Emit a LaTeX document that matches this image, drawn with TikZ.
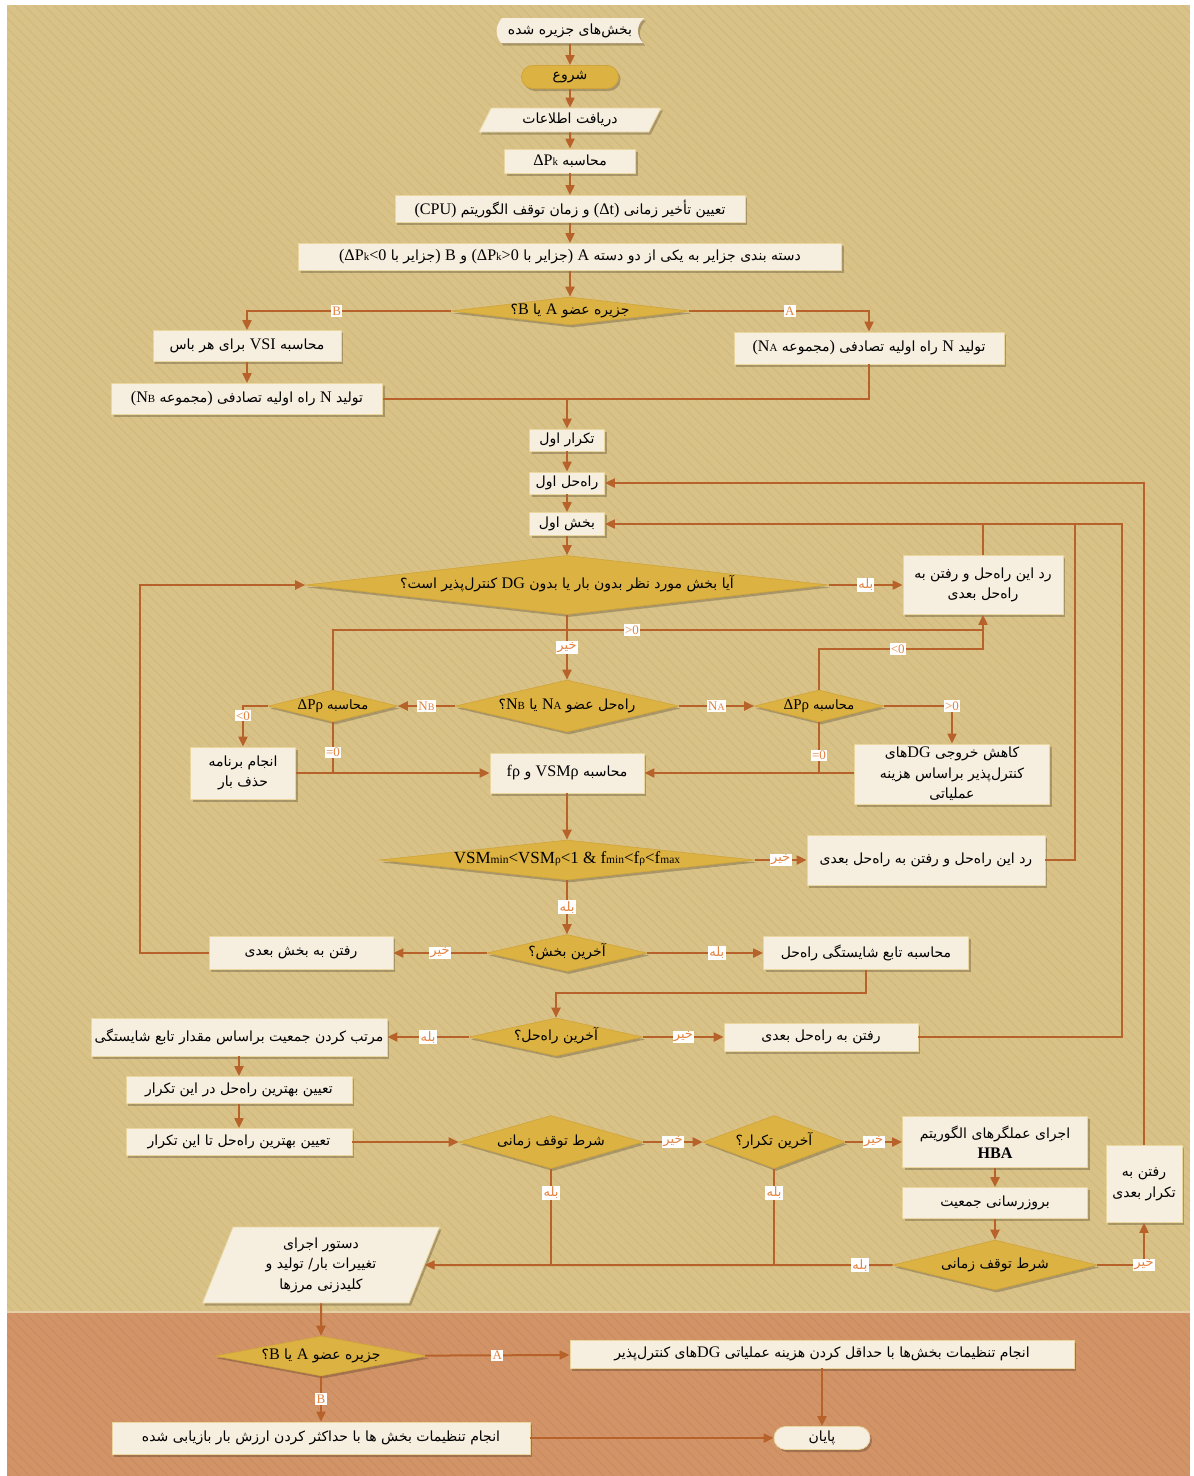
\documentclass[tikz,border=0pt]{standalone}
\usepackage{fontspec}
\setmainfont{Liberation Serif}
\newfontfamily\arabicfont[Script=Arabic]{DejaVu Sans}
\newfontfamily\latfont{Liberation Serif}[Scale=1.15]
\TeXXeTstate=1
\usetikzlibrary{arrows.meta, positioning, shapes.geometric, shadows, patterns.meta}

\definecolor{tanbg}{HTML}{D9C287}
\definecolor{tanln}{HTML}{D2B97B}
\definecolor{brownbg}{HTML}{D29467}
\definecolor{brownln}{HTML}{C98B5F}
\definecolor{edgeln}{HTML}{E6CFA6}
\definecolor{gold}{HTML}{DCB242}
\definecolor{goldln}{HTML}{D0A43A}
\definecolor{cream}{HTML}{F6EEDF}
\definecolor{creamln}{HTML}{EAD7A0}
\definecolor{flowc}{HTML}{B8622B}
\definecolor{labc}{HTML}{E4823F}

\newcommand{\fat}[1]{{\arabicfont\beginR #1\endR}}
\newcommand{\enw}[1]{\beginL{\latfont #1}\endL}
\newcommand{\sml}[2][9.5]{{\fontsize{#1}{#1}\selectfont #2}}

\tikzset{
  boxshadow/.style={drop shadow={shadow xshift=2pt, shadow yshift=-2.5pt, opacity=0.22, fill=black}},
  box/.style={rectangle, fill=cream, draw=creamln, line width=0.8pt, inner sep=2pt, align=center, font=\fontsize{14}{20.5}\selectfont, boxshadow},
  dec/.style={diamond, fill=gold, draw=goldln, line width=0.6pt, inner sep=0pt, text height=8pt, text depth=2pt, align=center, font=\fontsize{14}{20}\selectfont, boxshadow},
  term/.style={box, rounded corners=11.5pt},
  io/.style={box, trapezium, trapezium stretches body},
  flow/.style={draw=flowc, line width=2pt, -{Triangle[length=10pt, width=9pt]}},
  wire/.style={draw=flowc, line width=2pt},
  lbl/.style={fill=white, text=labc, inner sep=1.3pt, font=\fontsize{13}{13}\selectfont},
}

\begin{document}
\begin{tikzpicture}[x=1pt, y=-1pt]
% background
\fill[white] (0,0) rectangle (1194,1476);
\fill[tanbg] (7,5) rectangle (1190,1312);
\fill[pattern={Lines[angle=-45, distance=7pt, line width=0.9pt]}, pattern color=tanln] (7,5) rectangle (1190,1312);
\fill[brownbg] (7,1312) rectangle (1190,1476);
\fill[pattern={Lines[angle=-45, distance=7pt, line width=0.9pt]}, pattern color=brownln] (7,1312) rectangle (1190,1476);
\draw[edgeln, line width=1.5pt] (7,1312) -- (1190,1312);
\useasboundingbox (0,0) rectangle (1194,1476);

% top chain
\fill[cream, boxshadow] (502,18) .. controls (495,26) and (495,35) .. (501,43) -- (643,43) .. controls (636,35) and (636,26) .. (644,18) -- cycle;
\node[font=\fontsize{14}{20}\selectfont, minimum width=140, minimum height=25, inner sep=0pt] (src) at (570,31) {\fat{بخش‌های جزیره شده}};
\node[term, fill=gold, draw=goldln, minimum width=97, minimum height=23] (start) at (570,77) {\fat{شروع}};
\node[io, trapezium left angle=56, trapezium right angle=124, minimum width=182, minimum height=24] (readin) at (570,120) {\fat{دریافت اطلاعات}};
\node[box, minimum width=131, minimum height=24] (calcdp) at (570,161) {\fat{محاسبه \enw{ΔP\sml{k}}}};
\node[box, minimum width=350, minimum height=27] (setdelay) at (570,209) {\fat{تعیین تأخیر زمانی \enw{(Δt)} و زمان توقف الگوریتم \enw{(CPU)}}};
\node[box, minimum width=543, minimum height=27] (classify) at (570,257) {\fat{دسته بندی جزایر به یکی از دو دسته \enw{A} \enw{)}جزایر با \enw{ΔP\sml{k}>0}\enw{(} و \enw{B} \enw{)}جزایر با \enw{ΔP\sml{k}<0}\enw{(}}};
\node[dec, minimum width=238, minimum height=28, aspect=8.5] (isleA) at (570,311) {\fat{جزیره عضو \enw{A} یا \enw{B}؟}};
\node[box, minimum width=188, minimum height=31] (vsi) at (247,346) {\fat{محاسبه \enw{VSI} برای هر باس}};
\node[box, minimum width=270, minimum height=32] (genA) at (869,348) {\fat{تولید \enw{N} راه اولیه تصادفی \enw{)}مجموعه \enw{N\sml{A}}\enw{(}}};
\node[box, minimum width=271, minimum height=31] (genB) at (247,399) {\fat{تولید \enw{N} راه اولیه تصادفی \enw{)}مجموعه \enw{N\sml{B}}\enw{(}}};

% iteration loop
\node[box, minimum width=75, minimum height=22] (iter1) at (567,440) {\fat{تکرار اول}};
\node[box, minimum width=75, minimum height=22] (sol1) at (567,483) {\fat{راه‌حل اول}};
\node[box, minimum width=75, minimum height=23] (sec1) at (567,524) {\fat{بخش اول}};
\node[dec, minimum width=523, minimum height=59, aspect=8.9] (qempty) at (567,585) {\fat{آیا بخش مورد نظر بدون بار یا بدون \enw{DG} کنترل‌پذیر است؟}};
\node[box, minimum width=160, minimum height=59] (rejA) at (983,585) {\fat{رد این راه‌حل و رفتن به}\\\fat{راه‌حل بعدی}};
\node[dec, minimum width=223, minimum height=52, aspect=4.3] (qset) at (567,706) {\fat{راه‌حل عضو \enw{N\sml{A}} یا \enw{N\sml{B}}؟}};
\node[dec, minimum width=129, minimum height=32, aspect=4, font=\fontsize{13}{16}\selectfont] (dpB) at (333,706) {\fat{محاسبه \enw{ΔPρ}}};
\node[dec, minimum width=129, minimum height=32, aspect=4, font=\fontsize{13}{16}\selectfont] (dpA) at (819,706) {\fat{محاسبه \enw{ΔPρ}}};
\node[box, minimum width=105, minimum height=52] (shed) at (243,773) {\fat{انجام برنامه}\\\fat{حذف بار}};
\node[box, minimum width=154, minimum height=40] (vsm) at (567,773) {\fat{محاسبه \enw{VSMρ} و \enw{fρ}}};
\node[box, minimum width=195, minimum height=60, inner sep=0pt] (reduce) at (952,774) {\fat{کاهش خروجی \enw{DG}های}\\\fat{کنترل‌پذیر براساس هزینه}\\\fat{عملیاتی}};
\node[dec, minimum width=375, minimum height=40, aspect=9.4, font=\fontsize{17}{20}\selectfont] (qlim) at (567,860) {VSM\sml[11.5]{min}<VSM\sml[11.5]{ρ}<1 \& f\sml[11.5]{min}<f\sml[11.5]{ρ}<f\sml[11.5]{max}};
\node[box, minimum width=238, minimum height=50] (rejB) at (926,860) {\fat{رد این راه‌حل و رفتن به راه‌حل بعدی}};
\node[dec, minimum width=160, minimum height=37, aspect=4.3] (qlastsec) at (567,953) {\fat{آخرین بخش؟}};
\node[box, minimum width=184, minimum height=33] (nextsec) at (301,953) {\fat{رفتن به بخش بعدی}};
\node[box, minimum width=205, minimum height=33] (fit) at (866,953) {\fat{محاسبه تابع شایستگی راه‌حل}};
\node[dec, minimum width=174, minimum height=38, aspect=4.6] (qlastsol) at (556,1037) {\fat{آخرین راه‌حل؟}};
\node[box, minimum width=296, minimum height=38] (sortpop) at (239,1037) {\fat{مرتب کردن جمعیت براساس مقدار تابع شایستگی}};
\node[box, minimum width=194, minimum height=28] (nextsol) at (821,1037) {\fat{رفتن به راه‌حل بعدی}};
\node[box, minimum width=226, minimum height=27] (bestit) at (239,1090) {\fat{تعیین بهترین راه‌حل در این تکرار}};
\node[box, minimum width=226, minimum height=27] (bestall) at (239,1142) {\fat{تعیین بهترین راه‌حل تا این تکرار}};
\node[dec, minimum width=184, minimum height=53, aspect=3.5] (qtime) at (551,1142) {\fat{شرط توقف زمانی}};
\node[dec, minimum width=142, minimum height=53, aspect=2.7] (qlastit) at (774,1142) {\fat{آخرین تکرار؟}};
\node[box, minimum width=185, minimum height=51, inner sep=0pt] (hba) at (995,1142) {\fat{اجرای عملگرهای الگوریتم}\\{\latfont\bfseries HBA}};
\node[box, minimum width=185, minimum height=31] (update) at (995,1203) {\fat{بروزرسانی جمعیت}};
\node[dec, minimum width=204, minimum height=50, aspect=4.1] (qtime2) at (995,1265) {\fat{شرط توقف زمانی}};
\node[box, minimum width=76, minimum height=77] (nextit) at (1144,1184) {\fat{رفتن به}\\\fat{تکرار بعدی}};
\node[io, trapezium left angle=61, trapezium right angle=119, minimum width=237, minimum height=76, inner sep=0pt] (cmd) at (321,1265) {\fat{دستور اجرای}\\\fat{تغییرات بار/ تولید و}\\\fat{کلیدزنی مرزها}};

% final stage
\node[dec, minimum width=212, minimum height=40, aspect=5.3] (isleB) at (321,1356) {\fat{جزیره عضو \enw{A} یا \enw{B}؟}};
\node[box, minimum width=504, minimum height=28] (setA) at (822,1354) {\fat{انجام تنظیمات بخش‌ها با حداقل کردن هزینه عملیاتی \enw{DG}های کنترل‌پذیر}};
\node[box, minimum width=418, minimum height=32] (setB) at (321,1438) {\fat{انجام تنظیمات بخش ها با حداکثر کردن ارزش بار بازیابی شده}};
\node[term, minimum width=96, minimum height=23] (stop) at (822,1438) {\fat{پایان}};

% connectors
\draw[flow] (src) -- (start);
\draw[flow] (start) -- (readin);
\draw[flow] (readin) -- (calcdp);
\draw[flow] (calcdp) -- (setdelay);
\draw[flow] (setdelay) -- (classify);
\draw[flow] (classify) -- (isleA);
\draw[flow] (isleA.west) -| node[lbl, pos=0.28] {B} (vsi.north);
\draw[flow] (isleA.east) -| node[lbl, pos=0.28] {A} (genA.north);
\draw[flow] (vsi) -- (genB);
\coordinate (joinN) at (567,399);
\draw[wire] (genB.east) -- (joinN);
\draw[wire] (genA.south) |- (joinN);
\draw[flow] (joinN) -- (iter1);
\draw[flow] (iter1) -- (sol1);
\draw[flow] (sol1) -- (sec1);
\draw[flow] (sec1) -- (qempty);
\draw[flow] (qempty) -- node[lbl] {\fat{بله}} (rejA);
\coordinate (backSec) at (1122,524);
\coordinate (backRej) at (1075,524);
\coordinate (backSol) at (1144,483);
\draw[flow] (nextsol.east) -| (backSec) -- (sec1.east);
\draw[wire] (rejA.north) -- (rejA.north |- backSec);
\draw[wire] (rejB.east) -| (backRej);
\draw[flow] (nextit.north) -- (backSol) -- (sol1.east);
\draw[flow] (qempty) -- node[lbl] {\fat{خیر}} (qset);
\draw[flow] (qset) -- node[lbl] {N\sml[10]{B}} (dpB);
\draw[flow] (qset) -- node[lbl] {N\sml[10]{A}} (dpA);
\coordinate (upGT) at (983,630);
\coordinate (upLT) at (983,649);
\draw[wire] (dpB.north) |- node[lbl, pos=0.73] {>0} (upGT);
\draw[flow] (dpA.north) |- node[lbl, pos=0.74] {<0} (upLT) -- (rejA.south);
\draw[flow] (dpB.west) -| node[lbl, pos=0.62] {<0} (shed.north);
\draw[wire] (dpB.south) -- node[lbl, pos=0.6] {=0} (dpB.south |- vsm.west);
\draw[flow] (shed) -- (vsm);
\draw[flow] (dpA.east) -| node[lbl, pos=0.5] {>0} (reduce.north);
\draw[wire] (dpA.south) -- node[lbl, pos=0.65] {=0} (dpA.south |- vsm.east);
\draw[flow] (reduce.west |- vsm.east) -- (vsm);
\draw[flow] (vsm) -- (qlim);
\draw[flow] (qlim) -- node[lbl] {\fat{خیر}} (rejB);
\draw[flow] (qlim) -- node[lbl] {\fat{بله}} (qlastsec);
\draw[flow] (qlastsec) -- node[lbl] {\fat{خیر}} (nextsec);
\coordinate (backQ) at (140,953);
\draw[flow] (nextsec.west) -- (backQ) |- (qempty.west);
\draw[flow] (qlastsec) -- node[lbl, pos=0.6] {\fat{بله}} (fit);
\coordinate (downFit) at (866,993);
\draw[flow] (fit.south) -- (downFit) -| (qlastsol.north);
\draw[flow] (qlastsol) -- node[lbl] {\fat{بله}} (sortpop);
\draw[flow] (qlastsol) -- node[lbl] {\fat{خیر}} (nextsol);
\draw[flow] (sortpop) -- (bestit);
\draw[flow] (bestit) -- (bestall);
\draw[flow] (bestall) -- (qtime);
\draw[flow] (qtime) -- node[lbl] {\fat{خیر}} (qlastit);
\draw[flow] (qlastit) -- node[lbl] {\fat{خیر}} (hba);
\draw[flow] (hba) -- (update);
\draw[flow] (update) -- (qtime2);
\draw[flow] (qtime2.east) -| node[lbl, pos=0.5] {\fat{خیر}} (nextit.south);
\draw[flow] (qtime2.west) -- node[lbl, pos=0.07] {\fat{بله}} (cmd.east);
\draw[wire] (qtime.south) -- node[lbl, pos=0.25] {\fat{بله}} (qtime.south |- qtime2.west);
\draw[wire] (qlastit.south) -- node[lbl, pos=0.25] {\fat{بله}} (qlastit.south |- qtime2.west);
\draw[flow] (cmd) -- (isleB);
\draw[flow] (isleB) -- node[lbl] {A} (setA);
\draw[flow] (isleB) -- node[lbl] {B} (setB);
\draw[flow] (setA) -- (stop);
\draw[flow] (setB) -- (stop);
\end{tikzpicture}
\end{document}
